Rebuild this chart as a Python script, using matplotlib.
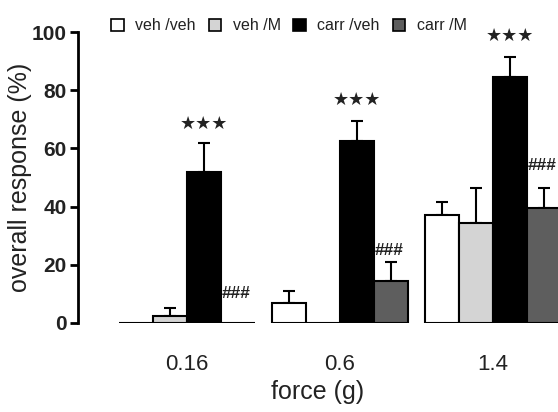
import numpy as np
import matplotlib.pyplot as plt
from matplotlib.patches import Patch

plt.rcParams['font.family'] = ['Liberation Sans', 'DejaVu Sans']

forces = ['0.16', '0.6', '1.4']
groups = ['veh /veh', 'veh /M', 'carr /veh', 'carr /M']
colors = ['white', '#d4d4d4', 'black', '#5e5e5e']

# mean response (%) per group, one list per force
means = {
    'veh /veh': [0, 7, 37],
    'veh /M': [2.5, 0, 34.5],
    'carr /veh': [52, 62.5, 84.5],
    'carr /M': [0, 14.5, 39.5],
}
sems = {
    'veh /veh': [0, 4, 4.5],
    'veh /M': [2.5, 0, 12],
    'carr /veh': [10, 7, 7],
    'carr /M': [0, 6.5, 7],
}
stars = [68.5, 76.5, 98.5]   # *** over carr /veh
hashes = [10, 25, 54]        # ### over carr /M

txt = '#222222'
fig = plt.figure(figsize=(5.58, 4.12), dpi=100)
ax = fig.add_axes([78 / 558, 1 - 323 / 412, 1 - 78 / 558, 291 / 412])

centers = np.arange(len(forces)) * 4.5
offsets = [-1.5, -0.5, 0.5, 1.5]
for g, off, c in zip(groups, offsets, colors):
    x = centers + off
    ax.bar(x, means[g], width=1.0, color=c, edgecolor='black', linewidth=1.5, zorder=2)
    err = np.array(sems[g])
    keep = err > 0
    ax.errorbar(x[keep], np.array(means[g])[keep],
                yerr=[np.zeros(keep.sum()), err[keep]],
                fmt='none', ecolor='black', elinewidth=1.5, capsize=4, capthick=1.5, zorder=1)

for i in range(len(forces)):
    ax.text(centers[i] + 0.5, stars[i], '\u2605\u2605\u2605', ha='center', va='center',
            fontsize=13, family='DejaVu Sans', color=txt, clip_on=False)
    ax.text(centers[i] + 1.02, hashes[i], '###', ha='left', va='center',
            fontsize=12.5, fontweight='bold', color=txt, clip_on=False)

ax.set_xlim(-3.2, 10.92)
ax.set_ylim(0, 100)
ax.set_yticks([0, 20, 40, 60, 80, 100])
ax.set_xticks(centers)
ax.set_xticklabels(forces, fontsize=16, color=txt)
ax.tick_params(axis='x', length=0, pad=22)
ax.tick_params(axis='y', length=6, width=2, labelsize=15, labelcolor=txt, pad=2)
for lab in ax.get_yticklabels():
    lab.set_fontweight('bold')
for s in ['top', 'right', 'bottom']:
    ax.spines[s].set_visible(False)
ax.spines['left'].set_linewidth(2)

ax.set_ylabel('overall response (%)', fontsize=18, color=txt, labelpad=0)
ax.set_xlabel('force (g)', fontsize=18, color=txt, labelpad=4)

handles = [Patch(facecolor=c, edgecolor='black', linewidth=1.2) for c in colors]
fig.legend(handles, groups, loc='center left', bbox_to_anchor=(105 / 558, 1 - 26 / 412),
           ncol=4, frameon=False, fontsize=11.5, handlelength=0.8, handleheight=0.8,
           handletextpad=0.7, columnspacing=0.8, labelcolor=txt, borderaxespad=0)

fig.savefig('out.png', dpi=100)
